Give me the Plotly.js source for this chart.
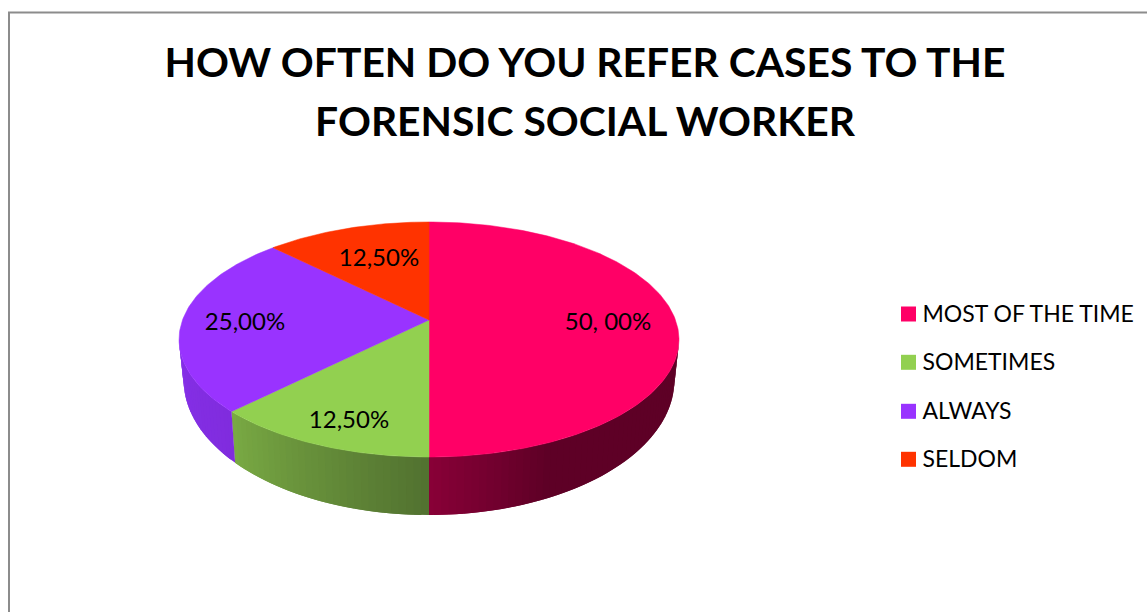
<!DOCTYPE html>
<html>
<head>
<meta charset="utf-8">
<script src="https://cdn.plot.ly/plotly-3.0.1.min.js"></script>
<style>html,body{margin:0;padding:0;background:#fff;overflow:hidden}#chart{width:1147px;height:612px}</style>
</head>
<body>
<div id="chart"></div>
<script>
// ---- data ----
const chartTitle = 'HOW OFTEN DO YOU REFER CASES TO THE<br>FORENSIC SOCIAL WORKER';
const categories = ['MOST OF THE TIME', 'SOMETIMES', 'ALWAYS', 'SELDOM'];
const shares = [50, 12.5, 25, 12.5];
const shareLabels = ['50, 00%', '12,50%', '25,00%', '12,50%'];

// ---- styles and layout constants ----
const topColors = ['#FF0066', '#92D050', '#9933FF', '#FF3300'];
const wallFrom = [[138, 0, 56], [82, 114, 48], [128, 44, 222], [200, 40, 0]];
const wallTo = [[94, 0, 38], [122, 171, 68], [134, 48, 232], [200, 40, 0]];
const FONT = 'Lato, Carlito, "Open Sans", sans-serif';
const cx = 429, k = 0.166;
const rim = { a: 246.5, b: 114.3, y: 320 };
const base = { a: 242, b: 131.3, y: 357.6 };
const labelPosX = [608, 349, 245, 379];
const labelPosY = [324, 422, 324, 260];
const legendX = 908.5, legendTextX = 922.5, legendRows = [314, 362.3, 411.3, 459.3];

// perspective projection of a point on the disc rim, theta clockwise from the top
const project = (p, t) => {
  const Y = -Math.cos(t), w = 1 - k * Y;
  return [cx + p.a * Math.sin(t) / w, p.y + p.b * Y / w];
};
const rad = d => d * Math.PI / 180;
const total = shares.reduce((a, b) => a + b, 0);
let start = 0;
const spans = shares.map(v => { const s = [start, start + v / total * 360]; start = s[1]; return s; });
const mix = (a, b, f) => 'rgb(' + a.map((c, i) => Math.round(c + (b[i] - c) * f)).join(',') + ')';

const traces = [];
// outer walls (front of the disc only)
const wallMin = 99.6, wallMax = 260.4, step = 1.5;
spans.forEach((s, i) => {
  const lo = Math.max(s[0], wallMin), hi = Math.min(s[1], wallMax);
  for (let d = lo; d < hi - 1e-6; d += step) {
    const e = Math.min(d + step * 2, hi);
    const p = [project(rim, rad(d)), project(rim, rad(e)), project(base, rad(e)), project(base, rad(d))];
    const f = i === 0 ? Math.min(1, (180 - d) / 25) : (d - lo) / (hi - lo);
    const col = mix(wallFrom[i], wallTo[i], f);
    traces.push({
      type: 'scatter', mode: 'lines', x: p.map(q => q[0]).concat(p[0][0]), y: p.map(q => q[1]).concat(p[0][1]),
      fill: 'toself', fillcolor: col, line: { width: 0 }, hoverinfo: 'skip', showlegend: false
    });
  }
});
// top faces
spans.forEach((s, i) => {
  const xs = [cx], ys = [rim.y];
  for (let d = s[0]; d <= s[1] + 1e-6; d += 1) {
    const q = project(rim, rad(d));
    xs.push(q[0]); ys.push(q[1]);
  }
  xs.push(cx); ys.push(rim.y);
  traces.push({
    type: 'scatter', mode: 'lines', name: categories[i], x: xs, y: ys, fill: 'toself',
    fillcolor: topColors[i], line: { color: topColors[i], width: 0.5 }, hoverinfo: 'skip', showlegend: false
  });
});
// slice labels
traces.push({
  type: 'scatter', mode: 'text', x: labelPosX, y: labelPosY, text: shareLabels,
  textposition: 'middle center', textfont: { family: FONT, size: 24, color: '#000' },
  hoverinfo: 'skip', showlegend: false
});
// legend rows
categories.forEach((c, i) => {
  traces.push({
    type: 'scatter', mode: 'markers', name: c, x: [legendX], y: [legendRows[i]],
    marker: { symbol: 'square', size: 15, color: topColors[i], line: { width: 0 } },
    hoverinfo: 'skip', showlegend: false, cliponaxis: false
  });
  traces.push({
    type: 'scatter', mode: 'text', name: c, x: [legendTextX], y: [legendRows[i] + 2], text: [c],
    textposition: 'middle right', textfont: { family: FONT, size: 23, color: '#000' },
    hoverinfo: 'skip', showlegend: false, cliponaxis: false
  });
});

const layout = {
  width: 1147, height: 612, margin: { l: 0, r: 0, t: 0, b: 0 },
  paper_bgcolor: '#fff', plot_bgcolor: '#fff', showlegend: false,
  title: {
    text: '<b>' + chartTitle.replace('<br>', '</b><br><b>') + '</b>',
    x: 585 / 1147, xanchor: 'center', y: 1 - 77 / 612, yanchor: 'top',
    font: { family: FONT, size: 40.8, color: '#000' }
  },
  xaxis: { range: [0, 1147], visible: false, fixedrange: true },
  yaxis: { range: [612, 0], visible: false, fixedrange: true },
  shapes: [{
    type: 'path', xref: 'x', yref: 'y', path: 'M 9 612 L 9 12.5 L 1147 12.5',
    line: { color: '#8c8c8c', width: 2 }, layer: 'below'
  }]
};
Plotly.newPlot('chart', traces, layout, { staticPlot: true, displayModeBar: false }).then(() => {
  // widen the title's line spacing to the reference's
  document.querySelectorAll('.gtitle tspan.line').forEach((t, i) => {
    if (i > 0) t.setAttribute('dy', (59 / 40.8) + 'em');
  });
});
</script>
</body>
</html>
